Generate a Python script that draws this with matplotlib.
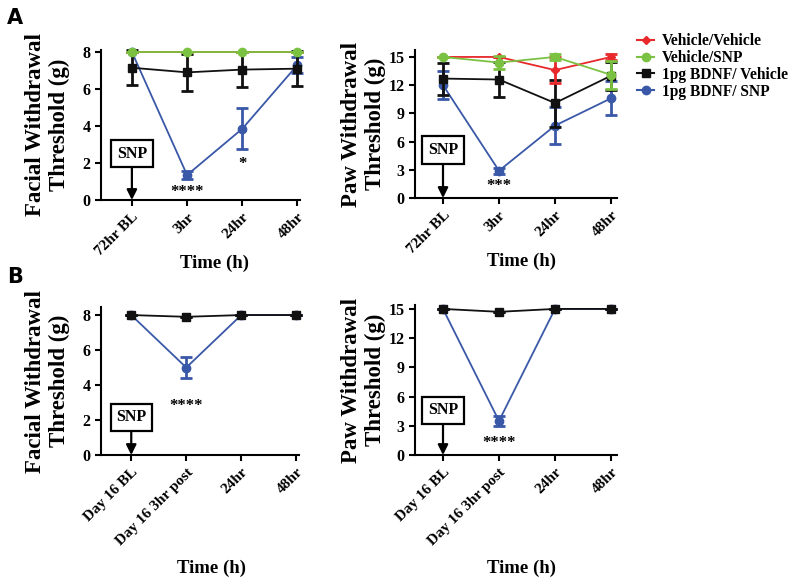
import matplotlib.pyplot as plt
from matplotlib.lines import Line2D

plt.rcParams['font.family'] = ['Liberation Serif', 'DejaVu Serif']
plt.rcParams['font.weight'] = 'bold'
plt.rcParams['axes.labelweight'] = 'bold'

groups = ['Vehicle/Vehicle', 'Vehicle/SNP', '1pg BDNF/ Vehicle', '1pg BDNF/ SNP']
colors = ['#e8282b', '#7cc242', '#111111', '#3a58a8']
markers = ['D', 'o', 's', 'o']

times_a = ['72hr BL', '3hr', '24hr', '48hr']
times_b = ['Day 16 BL', 'Day 16 3hr post', '24hr', '48hr']

# panel A: all four groups
face_a = [[8, 8, 8, 8], [8, 8, 8, 8], [7.15, 6.9, 7.05, 7.1], [8, 1.35, 3.85, 7.3]]
face_a_err = [[0, 0, 0, 0], [0, 0, 0, 0], [0.95, 1.0, 0.95, 0.95], [0, 0.2, 1.1, 0.45]]
paw_a = [[15, 15, 13.6, 15], [15, 14.4, 15, 13.1], [12.7, 12.6, 10.1, 13.0], [12.0, 2.9, 7.7, 10.6]]
paw_a_err = [[0, 0, 1.4, 0.3], [0, 0.7, 0.3, 1.5], [1.7, 1.9, 2.5, 1.5], [1.5, 0.3, 2.0, 1.8]]

# panel B: BDNF/Vehicle and BDNF/SNP only
face_b = [[8, 7.9, 8, 8], [8, 5.0, 8, 8]]
face_b_err = [[0, 0, 0, 0], [0, 0.6, 0, 0]]
paw_b = [[15, 14.7, 15, 15], [15, 3.5, 15, 15]]
paw_b_err = [[0, 0, 0, 0], [0, 0.5, 0, 0]]

zorders = [4, 5, 3, 2]


def draw(ax, xlabels, series, errs, idx, ylabel, yticks, ylim, xlim, snp_y, stars, xlab_pos, pad):
    x = list(range(len(xlabels)))
    for vals, err, i in zip(series, errs, idx):
        ax.errorbar(x, vals, yerr=err, color=colors[i], marker=markers[i],
                    ms=6 if markers[i] != 'D' else 4, lw=1.3, elinewidth=2,
                    capsize=4, capthick=2, zorder=zorders[i], clip_on=False)
    ax.set_xlim(*xlim)
    ax.set_ylim(*ylim)
    ax.set_xticks(x)
    ax.set_xticklabels(xlabels, rotation=45, ha='right', rotation_mode='anchor', fontsize=11)
    ax.set_yticks(yticks)
    ax.tick_params(axis='y', labelsize=11.5)
    ax.tick_params(width=1.5, length=4)
    for s in ['top', 'right']:
        ax.spines[s].set_visible(False)
    for s in ['left', 'bottom']:
        ax.spines[s].set_linewidth(1.5)
    ax.set_ylabel(ylabel, fontsize=16.5, labelpad=pad, linespacing=1.15)
    ax.set_xlabel('Time (h)', fontsize=13.5)
    ax.xaxis.set_label_coords(*xlab_pos)
    ax.xaxis.label.set_va('center')
    ax.annotate('SNP', xy=(0, 0), xytext=(0, snp_y), ha='center', va='center', fontsize=11.5,
                bbox=dict(boxstyle='square,pad=0.35', fc='white', ec='black', lw=1.6),
                arrowprops=dict(arrowstyle='-|>', color='black', lw=1.6,
                                mutation_scale=15, shrinkA=0, shrinkB=0))
    for sx, sy, txt in stars:
        ax.text(sx, sy, txt, ha='center', va='center', fontsize=12)


fig = plt.figure(figsize=(8, 5.86), dpi=100)

ax1 = fig.add_axes([0.12625, 0.6587, 0.249, 0.256])
draw(ax1, times_a, face_a, face_a_err, [0, 1, 2, 3], 'Facial Withdrawal\nThreshold (g)',
     [0, 2, 4, 6, 8], (0, 8.11), (-0.56, 3.05), 2.5, [(1, 0.45, '****'), (2, 1.95, '*')],
     (0.57, -0.42), 9)

ax2 = fig.add_axes([0.51875, 0.6621, 0.252, 0.2526])
draw(ax2, times_a, paw_a, paw_a_err, [0, 1, 2, 3], 'Paw Withdrawal\nThreshold (g)',
     [0, 3, 6, 9, 12, 15], (0, 15.74), (-0.5, 3.1), 5.1, [(1, 1.3, '***')],
     (0.53, -0.43), 2)

ax3 = fig.add_axes([0.12625, 0.2235, 0.2475, 0.2526])
draw(ax3, times_b, face_b, face_b_err, [2, 3], 'Facial Withdrawal\nThreshold (g)',
     [0, 2, 4, 6, 8], (0, 8.46), (-0.55, 3.05), 2.15, [(1, 2.8, '****')],
     (0.56, -0.765), 9)

ax4 = fig.add_axes([0.51875, 0.2235, 0.252, 0.256])
draw(ax4, times_b, paw_b, paw_b_err, [2, 3], 'Paw Withdrawal\nThreshold (g)',
     [0, 3, 6, 9, 12, 15], (0, 15.4), (-0.5, 3.1), 4.6, [(1, 1.2, '****')],
     (0.53, -0.755), 2)

handles = [Line2D([], [], color=colors[i], marker=markers[i], lw=1.5,
                  ms=6 if markers[i] != 'D' else 4) for i in range(4)]
fig.legend(handles, groups, loc='upper left', bbox_to_anchor=(631 / 800, 1 - 27 / 586),
           frameon=False, fontsize=11.2, handlelength=1.1, handletextpad=0.5,
           labelspacing=0.05, borderaxespad=0)

fig.text(0.009, 0.97, 'A', fontsize=15, fontweight='bold', family='DejaVu Sans', va='center')
fig.text(0.009, 0.527, 'B', fontsize=15, fontweight='bold', family='DejaVu Sans', va='center')

fig.savefig('out.png', dpi=100)
